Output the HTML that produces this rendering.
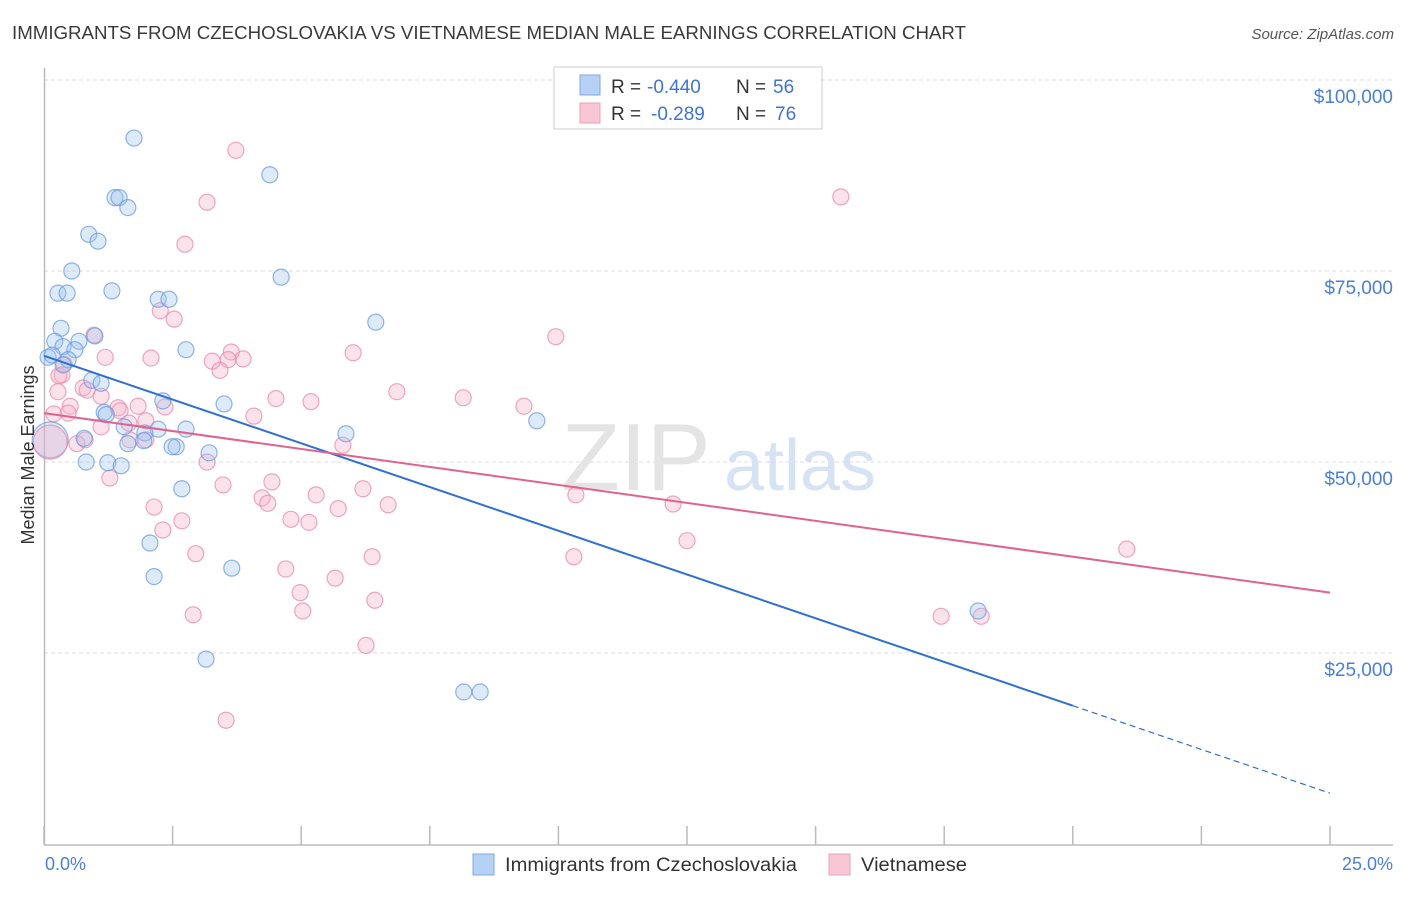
<!DOCTYPE html>
<html><head><meta charset="utf-8">
<style>
body{margin:0;background:#fff;font-family:"Liberation Sans",sans-serif;}
svg text{font-family:"Liberation Sans",sans-serif;}
</style></head>
<body>
<svg id="chart" width="1406" height="892" viewBox="0 0 1406 892" xmlns="http://www.w3.org/2000/svg">
<text x="12" y="39" font-size="18" fill="#3a3a3a" textLength="954" lengthAdjust="spacingAndGlyphs">IMMIGRANTS FROM CZECHOSLOVAKIA VS VIETNAMESE MEDIAN MALE EARNINGS CORRELATION CHART</text>
<text x="1394" y="39" font-size="15" fill="#555" font-style="italic" text-anchor="end">Source: ZipAtlas.com</text>
<g id="grid"></g>
<text x="636" y="490" font-size="96" fill="#e4e4e4" font-family="Liberation Serif" text-anchor="middle">ZIP</text>
<text x="800" y="490" font-size="72" fill="#d6e3f5" text-anchor="middle">atlas</text>
<g id="axes"></g>
<g id="pts"></g>
<g id="trends"></g>
<text transform="translate(34,455) rotate(-90)" font-size="18" fill="#333" text-anchor="middle">Median Male Earnings</text>
<text x="45" y="870" font-size="18" fill="#4a7fd8">0.0%</text>
<text x="1393" y="870" font-size="18" fill="#4a7fd8" text-anchor="end">25.0%</text>
<g>
<rect x="554" y="67" width="268" height="62" fill="#fff" stroke="#ccc"/>
<rect x="580" y="75" width="20" height="20" fill="#b7d1f5" stroke="#7fa8e6"/>
<rect x="580" y="103" width="20" height="20" fill="#f8c6d5" stroke="#eba1ba"/>
<text x="611" y="93" font-size="19" fill="#333">R =</text>
<text x="647" y="93" font-size="19" fill="#3d74d6">-0.440</text>
<text x="736" y="93" font-size="19" fill="#333">N =</text>
<text x="773" y="93" font-size="19" fill="#3d74d6">56</text>
<text x="611" y="120" font-size="19" fill="#333">R =</text>
<text x="651" y="120" font-size="19" fill="#3d74d6">-0.289</text>
<text x="736" y="120" font-size="19" fill="#333">N =</text>
<text x="775" y="120" font-size="19" fill="#3d74d6">76</text>
</g>
<g>
<rect x="473" y="854" width="21" height="21" fill="#b7d1f5" stroke="#7fa8e6"/>
<text x="505" y="871" font-size="19" fill="#333" textLength="292" lengthAdjust="spacingAndGlyphs">Immigrants from Czechoslovakia</text>
<rect x="829" y="854" width="21" height="21" fill="#f8c6d5" stroke="#eba1ba"/>
<text x="861" y="871" font-size="19" fill="#333" textLength="106" lengthAdjust="spacingAndGlyphs">Vietnamese</text>
</g>
</svg>
<script>
const yTicks=[25000,50000,75000,100000];
const yTickLabels=["$25,000","$50,000","$75,000","$100,000"];
const xTicks=[0,2.5,5,7.5,10,12.5,15,17.5,20,22.5,25];
const blueX=[1.75,4.39,1.38,1.46,1.63,0.87,1.05,0.54,4.61,0.27,0.45,1.32,2.22,2.43,6.45,0.33,0.68,0.21,0.37,0.60,2.76,0.08,0.16,0.99,0.47,0.93,1.11,2.31,3.50,1.17,1.21,1.56,2.22,2.76,1.96,9.58,5.87,0.78,1.63,1.94,2.57,2.49,3.21,0.82,1.24,1.50,2.68,2.06,2.14,3.65,3.15,18.16,8.16,8.48,0.37];
const blueY=[92.4,87.6,84.6,84.6,83.3,79.8,78.9,75.0,74.2,72.1,72.1,72.4,71.3,71.3,68.3,67.5,65.8,65.8,65.1,64.7,64.7,63.7,64.0,66.5,63.4,60.7,60.3,58.0,57.6,56.5,56.2,54.6,54.3,54.3,53.8,55.4,53.7,53.1,52.4,52.8,52.0,52.0,51.2,50.0,49.9,49.5,46.5,39.4,35.0,36.1,24.2,30.5,19.9,19.9,62.7];
const pinkX=[3.73,15.49,3.17,2.74,2.26,2.53,0.97,9.95,6.01,3.64,1.19,2.08,3.27,3.87,3.58,3.42,0.35,0.29,0.39,0.76,6.86,0.84,1.11,0.27,4.51,5.19,8.15,9.33,0.51,1.83,1.44,2.35,0.19,4.08,1.48,0.47,1.98,1.65,1.11,1.67,1.98,5.81,0.64,0.80,3.17,1.28,3.48,4.43,6.20,5.29,10.34,4.24,4.35,6.69,5.72,12.23,2.14,4.80,2.68,5.15,2.31,12.50,2.95,6.38,10.30,4.70,5.66,21.05,4.98,6.43,2.90,5.03,17.44,18.22,6.26,3.54];
const pinkY=[90.8,84.7,84.0,78.5,69.8,68.7,66.6,66.4,64.3,64.4,63.7,63.6,63.2,63.5,63.4,62.0,61.4,61.3,62.8,59.7,59.2,59.4,58.6,59.2,58.3,57.9,58.4,57.3,57.3,57.3,57.1,57.2,56.3,56.0,56.7,56.4,55.4,55.1,54.6,52.9,52.9,52.2,52.4,52.9,50.0,47.9,47.0,47.4,46.5,45.7,45.7,45.3,44.6,44.4,43.9,44.5,44.1,42.5,42.3,42.1,41.1,39.7,38.0,37.6,37.6,36.0,34.8,38.6,32.9,31.9,30.0,30.5,29.8,29.8,26.0,16.2];
const bigBlue=[0.12,52.9];
const bigPink=[0.12,52.6];
const blueTrend=[63.9,-2.29]; // intercept ($k), slope per %
const pinkTrend=[56.4,-0.94];
const blueSolidEnd=20;

const NS="http://www.w3.org/2000/svg";
const X=p=>44+p*51.44;
const Y=v=>844-v*0.00764;
const Yk=k=>Y(k*1000);
function mk(tag,attrs,parent){const e=document.createElementNS(NS,tag);for(const k in attrs)e.setAttribute(k,attrs[k]);parent.appendChild(e);return e;}
const grid=document.getElementById('grid'),axes=document.getElementById('axes'),pts=document.getElementById('pts'),tr=document.getElementById('trends');
yTicks.forEach((t,i)=>{
  const l=mk('line',{x1:44,x2:1393,y1:Y(t),y2:Y(t),stroke:'#dcdcdc','stroke-dasharray':'4,3'},grid);
  
  
  const tx=mk('text',{x:1393,y:Y(t)+23,'font-size':19,fill:'#4a7fd8','text-anchor':'end'},grid);
  tx.textContent=yTickLabels[i];
  
  
});
let a=mk('line',{x1:44.5,x2:44.5,y1:68,y2:845,stroke:'#bbb','stroke-width':1.5},axes);


a=mk('line',{x1:44,x2:1393,y1:845,y2:845,stroke:'#bbb','stroke-width':1.5},axes);


xTicks.forEach(t=>{const l=mk('line',{x1:X(t),x2:X(t),y1:826,y2:845,stroke:'#bbb','stroke-width':1.5},axes);
  
  });
function dot(x,y,r,fill,stroke,name){const c=mk('circle',{cx:X(x),cy:Yk(y),r:r,fill:fill,'fill-opacity':0.35,stroke:stroke,'stroke-opacity':0.75,'stroke-width':1.2},pts);
  
  }
pinkX.forEach((x,i)=>dot(x,pinkY[i],8,'#f5afc5','#e88aab','point-vietnamese'));
blueX.forEach((x,i)=>dot(x,blueY[i],8,'#9fc2ef','#6a9be0','point-czechoslovakia'));
dot(bigBlue[0],bigBlue[1],18,'#9fc2ef','#6a9be0','point-czechoslovakia-large');
dot(bigPink[0],bigPink[1],17,'#f5afc5','#e88aab','point-vietnamese-large');
let l=mk('line',{x1:X(0),y1:Yk(blueTrend[0]),x2:X(blueSolidEnd),y2:Yk(blueTrend[0]+blueTrend[1]*blueSolidEnd),stroke:'#2f6fd6','stroke-width':2},tr);


l=mk('line',{x1:X(blueSolidEnd),y1:Yk(blueTrend[0]+blueTrend[1]*blueSolidEnd),x2:X(25),y2:Yk(blueTrend[0]+blueTrend[1]*25),stroke:'#2f6fd6','stroke-width':1.2,'stroke-dasharray':'6,4'},tr);


l=mk('line',{x1:X(0),y1:Yk(pinkTrend[0]),x2:X(25),y2:Yk(pinkTrend[0]+pinkTrend[1]*25),stroke:'#e0628f','stroke-width':2},tr);


</script>
</body></html>
